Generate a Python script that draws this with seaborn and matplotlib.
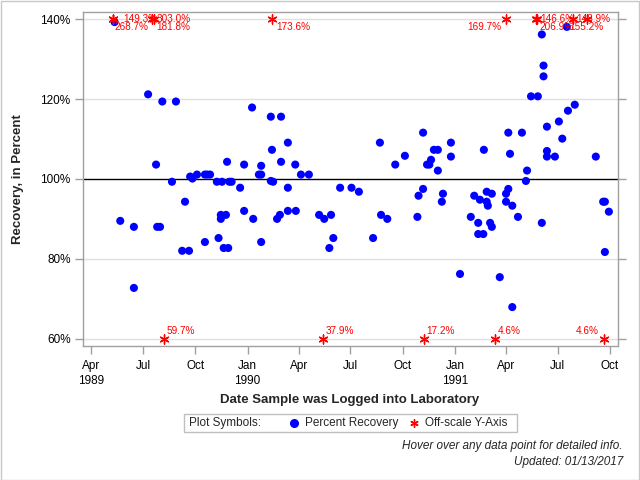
import matplotlib
matplotlib.use('Agg')
import matplotlib.pyplot as plt
import matplotlib.dates as mdates
from matplotlib.lines import Line2D
from matplotlib.patches import Rectangle
import pandas as pd
import numpy as np
import seaborn as sns

# percent recovery values
log_dates = [
    '1989-05-12', '1989-05-22', '1989-06-15', '1989-06-15', '1989-07-10', '1989-07-24',
    '1989-07-26', '1989-07-31', '1989-08-04', '1989-08-21', '1989-08-28', '1989-09-08',
    '1989-09-13', '1989-09-20', '1989-09-22', '1989-09-26', '1989-10-04', '1989-10-18',
    '1989-10-18', '1989-10-22', '1989-10-27', '1989-11-08', '1989-11-11', '1989-11-15',
    '1989-11-15', '1989-11-17', '1989-11-20', '1989-11-24', '1989-11-26', '1989-11-28',
    '1989-11-30', '1989-12-04', '1989-12-19', '1989-12-26', '1989-12-26', '1990-01-09',
    '1990-01-11', '1990-01-21', '1990-01-25', '1990-01-25', '1990-01-25', '1990-02-11',
    '1990-02-11', '1990-02-13', '1990-02-15', '1990-02-22', '1990-02-27', '1990-03-01',
    '1990-03-01', '1990-03-13', '1990-03-13', '1990-03-13', '1990-03-26', '1990-03-27',
    '1990-04-05', '1990-04-19', '1990-05-07', '1990-05-16', '1990-05-25', '1990-05-28',
    '1990-06-01', '1990-06-13', '1990-07-03', '1990-07-16', '1990-08-10', '1990-08-22',
    '1990-08-24', '1990-09-04', '1990-09-18', '1990-10-05', '1990-10-27', '1990-10-29',
    '1990-11-06', '1990-11-06', '1990-11-13', '1990-11-17', '1990-11-20', '1990-11-25',
    '1990-12-02', '1990-12-02', '1990-12-09', '1990-12-11', '1990-12-25', '1990-12-25',
    '1991-01-10', '1991-01-29', '1991-02-04', '1991-02-11', '1991-02-11', '1991-02-14',
    '1991-02-20', '1991-02-21', '1991-02-26', '1991-02-26', '1991-02-28', '1991-03-04',
    '1991-03-07', '1991-03-07', '1991-03-21', '1991-04-01', '1991-04-01', '1991-04-05',
    '1991-04-05', '1991-04-08', '1991-04-12', '1991-04-12', '1991-04-22', '1991-04-29',
    '1991-05-06', '1991-05-08', '1991-05-15', '1991-05-27', '1991-06-03', '1991-06-03',
    '1991-06-06', '1991-06-06', '1991-06-12', '1991-06-12', '1991-06-12', '1991-06-26',
    '1991-07-03', '1991-07-09', '1991-07-17', '1991-07-19', '1991-07-31', '1991-09-06',
    '1991-09-19', '1991-09-22', '1991-09-22', '1991-09-29',
]
recovery = [
    139.3, 89.5, 88.0, 72.7, 121.2, 103.6,
    88.0, 88.0, 119.4, 99.3, 119.4, 82.0,
    94.3, 82.0, 100.6, 100.1, 101.1, 101.1,
    84.2, 101.1, 101.1, 99.3, 85.2, 91.0,
    90.0, 99.3, 82.7, 91.0, 104.3, 82.7,
    99.3, 99.3, 97.8, 103.6, 92.0, 117.9,
    90.0, 101.1, 103.3, 101.1, 84.2, 115.6,
    99.5, 107.3, 99.3, 90.0, 91.0, 115.6,
    104.3, 109.1, 97.8, 92.0, 103.6, 92.0,
    101.1, 101.1, 91.0, 90.0, 82.7, 91.0,
    85.2, 97.8, 97.8, 96.8, 85.2, 109.1,
    91.0, 90.0, 103.6, 105.8, 90.5, 95.8,
    111.6, 97.5, 103.6, 103.6, 104.8, 107.3,
    107.3, 102.1, 94.3, 96.3, 109.1, 105.6,
    76.2, 90.5, 95.8, 89.0, 86.2, 94.8,
    86.2, 107.3, 96.8, 94.3, 93.3, 89.0,
    96.3, 88.0, 75.4, 96.3, 94.3, 111.6,
    97.5, 106.3, 93.3, 67.9, 90.5, 111.6,
    99.5, 102.1, 120.7, 120.7, 136.2, 89.0,
    128.4, 125.7, 113.1, 107.0, 105.6, 105.6,
    114.4, 110.1, 138.1, 117.1, 118.6, 105.6,
    94.3, 94.3, 81.7, 91.8,
]

# samples outside the 60-140% window
off_dates = ['1989-05-09', '1989-05-10', '1989-07-16', '1989-07-21', '1990-02-13',
             '1991-04-01', '1991-05-24', '1991-05-26', '1991-07-27', '1991-08-21',
             '1989-08-07', '1990-05-14', '1990-11-07', '1991-03-13', '1991-09-20']
off_values = [149.3, 268.7, 303.0, 181.8, 173.6,
              169.7, 146.6, 206.9, 148.9, 155.2,
              59.7, 37.9, 17.2, 4.6, 4.6]

# label placement (pixels from the star) for each off-scale value
label_pos = [(10, 0, 'left'), (1, -8, 'left'), (5, 0, 'left'), (2, -8, 'left'), (4, -8, 'left'),
             (-5, -8, 'right'), (4, 0, 'left'), (2, -8, 'left'), (4, 0, 'left'), (0, -8, 'center'),
             (3, 8, 'left'), (3, 8, 'left'), (3, 8, 'left'), (3, 8, 'left'), (-5, 8, 'right')]

ylo, yhi = 60, 140

df = pd.DataFrame({'date': pd.to_datetime(log_dates), 'recovery': recovery})
off = pd.DataFrame({'date': pd.to_datetime(off_dates), 'value': off_values})
off['plot_y'] = np.clip(off['value'], ylo, yhi)

sns.set_style('white')
plt.rcParams['font.family'] = ['Liberation Sans', 'DejaVu Sans']

fig = plt.figure(figsize=(6.4, 4.8), dpi=100)
ax = fig.add_axes([83 / 640, 134 / 480, 535 / 640, 334.3 / 480])

for v in [60, 80, 120, 140]:
    ax.axhline(v, color='#e0e0e0', lw=1, zorder=0)
ax.axhline(100, color='black', lw=1, zorder=1)

sns.scatterplot(data=df, x='date', y='recovery', ax=ax, color='#0000ff',
                s=34, edgecolor='none', zorder=3, legend=False)
ax.scatter(off['date'], off['plot_y'], marker=(6, 2, 0), s=42, color='red',
           linewidths=1, zorder=4)

for (d, v, py), (dx, dy, ha) in zip(off[['date', 'value', 'plot_y']].values, label_pos):
    ax.annotate(f'{v:.1f}%', (d, py), xytext=(dx, dy), textcoords='offset pixels',
                ha=ha, va='center', color='red', fontsize=7.2, zorder=5)

ax.set_xlim(pd.Timestamp('1989-03-17 10:00'), pd.Timestamp('1991-10-15 02:00'))
ax.set_ylim(58.15, 141.9)
ax.set_yticks([60, 80, 100, 120, 140])
ax.yaxis.set_major_formatter(plt.FuncFormatter(lambda v, p: f'{v:.0f}%'))

ax.xaxis.set_major_locator(mdates.MonthLocator(bymonth=[1, 4, 7, 10]))
def fmt_date(x, pos):
    d = mdates.num2date(x)
    s = d.strftime('%b')
    if d.month == 1 or pos == 0:
        s += '\n' + d.strftime('%Y')
    return s
ax.xaxis.set_major_formatter(plt.FuncFormatter(fmt_date))

for sp in ax.spines.values():
    sp.set_color('#a0a0a0')
    sp.set_linewidth(1)
ax.tick_params(axis='both', direction='out', length=6, width=1, color='#a0a0a0',
               labelsize=8.5, labelcolor='black')
ax.tick_params(axis='y', right=True, left=True, pad=3)
ax.tick_params(axis='x', bottom=True, pad=4)
for lab in ax.get_xticklabels():
    lab.set_linespacing(1.4)

ax.set_xlabel('')
ax.set_ylabel('')
fig.text(18 / 640, 1 - 179 / 480, 'Recovery, in Percent', rotation=90, ha='center',
         va='center', fontsize=9.5, fontweight='bold')
fig.text(350 / 640, 1 - 400.5 / 480, 'Date Sample was Logged into Laboratory', ha='center',
         va='center', fontsize=9.5, fontweight='bold')

# legend box drawn by hand to keep the SAS look
fig.add_artist(Rectangle((184 / 640, 1 - 432 / 480), 333 / 640, 18 / 480,
                         transform=fig.transFigure, fill=False, edgecolor='#c0c0c0', lw=1))
ly = 1 - 423 / 480
fig.text(189 / 640, ly, 'Plot Symbols:', ha='left', va='center', fontsize=8.5)
fig.add_artist(Line2D([294 / 640], [ly], marker='o', color='#0000ff', markersize=5.5,
                      transform=fig.transFigure))
fig.text(305 / 640, ly, 'Percent Recovery', ha='left', va='center', fontsize=8.5)
fig.add_artist(Line2D([414 / 640], [ly], marker=(6, 2, 0), color='red', markersize=6,
                      markeredgewidth=1, transform=fig.transFigure))
fig.text(425 / 640, ly, 'Off-scale Y-Axis', ha='left', va='center', fontsize=8.5)

fig.text(623 / 640, 1 - 446.5 / 480, 'Hover over any data point for detailed info.',
         ha='right', va='center', fontsize=8.5, style='italic')
fig.text(623 / 640, 1 - 461.5 / 480, 'Updated: 01/13/2017', ha='right', va='center',
         fontsize=8.5, style='italic')

fig.add_artist(Rectangle((0.5 / 640, 0.5 / 480), 638.5 / 640, 478.5 / 480,
                         transform=fig.transFigure, fill=False, edgecolor='#c8c8c8', lw=1))

fig.savefig('out.png', dpi=100)
